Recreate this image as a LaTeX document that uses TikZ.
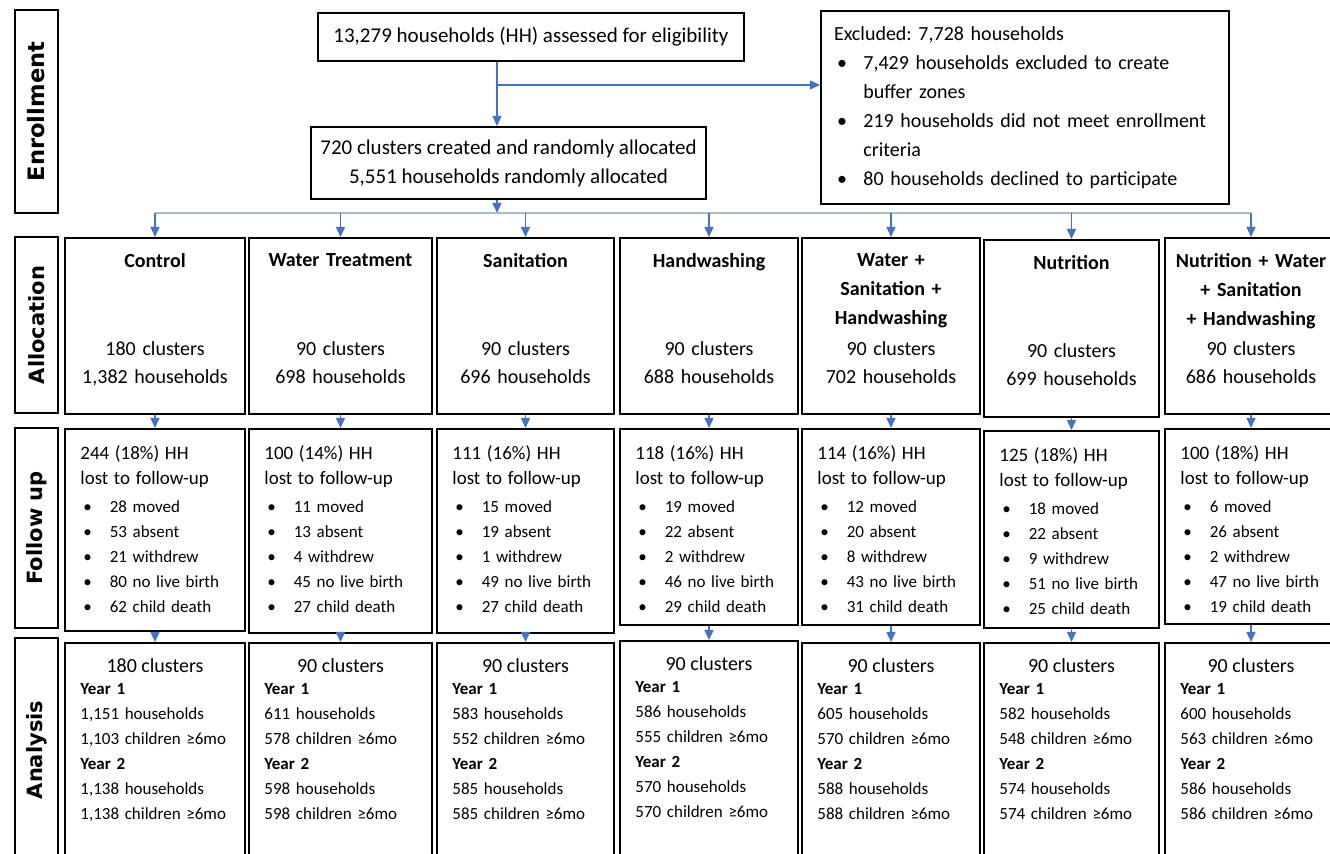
\documentclass[tikz,border=0pt]{standalone}
\usepackage{fontspec}
\setmainfont{Carlito}
\newfontfamily\labelfont{DejaVu Sans}
\usetikzlibrary{arrows.meta, calc}
\frenchspacing

\definecolor{flowblue}{HTML}{4472C4}
\definecolor{busline}{HTML}{A7B9D1}

\newcommand{\bul}{\hspace*{1.5pt}\makebox[13.2pt][l]{\textbullet}}
\newcommand{\fuhead}{\fontsize{9.5}{12.5}\selectfont}

\tikzset{
  box/.style={draw, line width=1pt, inner sep=0pt, anchor=north west},
  rowlabel/.style={draw, line width=1pt, rotate=90, inner sep=0pt, minimum height=21.5pt,
    font=\labelfont\bfseries\fontsize{10.5}{12}\selectfont},
  flow/.style={flowblue, line width=0.7pt, -{Triangle[length=5pt, width=4.5pt]}},
  bus/.style={busline, line width=0.9pt},
  armtitle/.style={anchor=north, inner sep=0pt, text width=86pt, align=center,
    font=\bfseries\fontsize{10}{14.5}\selectfont},
  armcount/.style={anchor=north, inner sep=0pt, text width=86pt, align=center,
    font=\fontsize{10}{14}\selectfont},
  lostlist/.style={anchor=north west, inner sep=0pt, text width=80pt, align=left,
    font=\fontsize{8.5}{12.5}\selectfont},
  yearlist/.style={anchor=north west, inner sep=0pt, text width=80pt, align=left,
    font=\fontsize{8.5}{12.5}\selectfont},
  clustcount/.style={anchor=north, inner sep=0pt, font=\fontsize{10}{12}\selectfont},
}

\begin{document}
\begin{tikzpicture}[x=0.5pt, y=-0.5pt]
\useasboundingbox (0,0) rectangle (1330,854);
\fill[white] (0,0) rectangle (1330,854);
\clip (0,0) rectangle (1330,854);

% stage labels
\node[rowlabel, minimum width=101.5pt, font=\labelfont\bfseries\fontsize{11.3}{12}\selectfont] (enrol) at (36.5,111.5) {Enrollment};
\node[rowlabel, minimum width=88pt] (alloc) at (36.5,325) {Allocation};
\node[rowlabel, minimum width=100pt] (follow) at (36.5,528) {Follow up};
\node[rowlabel, minimum width=112pt] (analy) at (36.5,750) {Analysis};

% enrollment
\node[box, minimum width=213pt, minimum height=24pt, font=\fontsize{10.5}{14.5}\selectfont] (assess) at (317,12)
  {13,279 households (HH) assessed for eligibility};
\node[box, minimum width=197.5pt, minimum height=36pt, align=center, font=\fontsize{10.5}{14.5}\selectfont] (rand) at (310,126)
  {720 clusters created and randomly allocated\\5,551 households randomly allocated};
\node[box, minimum width=204pt, minimum height=96.5pt, inner xsep=6.5pt, text width=191pt, align=left,
  font=\fontsize{10}{14.5}\selectfont] (excl) at (820,10)
  {Excluded: 7,728 households\\
   \bul 7,429 households excluded to create\\
   \hspace*{14.7pt}buffer zones\\
   \bul 219 households did not meet enrollment\\
   \hspace*{14.7pt}criteria\\
   \bul 80 households declined to participate};

\coordinate (split) at (497,85);
\coordinate (bus) at (497,213);

% allocation
\node[box, minimum width=90pt, minimum height=88pt] (al1) at (64,237) {};
\node[box, minimum width=91.5pt, minimum height=88pt] (al2) at (248,237) {};
\node[box, minimum width=88.5pt, minimum height=88pt] (al3) at (436,237) {};
\node[box, minimum width=89pt, minimum height=88pt] (al4) at (619,237) {};
\node[box, minimum width=89pt, minimum height=88pt] (al5) at (801,237) {};
\node[box, minimum width=87.5pt, minimum height=88.5pt] (al6) at (983,239) {};
\node[box, minimum width=86pt, minimum height=88pt] (al7) at (1164,237) {};

\node[armtitle] (ti1) at ([yshift=-8pt]al1.north) {Control};
\node[armtitle] (ti2) at ([yshift=-8pt]al2.north) {Water Treatment};
\node[armtitle] (ti3) at ([yshift=-8pt]al3.north) {Sanitation};
\node[armtitle] (ti4) at ([yshift=-8pt]al4.north) {Handwashing};
\node[armtitle] (ti5) at ([yshift=-8pt]al5.north) {Water +\\Sanitation +\\Handwashing};
\node[armtitle] (ti6) at ([yshift=-8pt]al6.north) {Nutrition};
\node[armtitle] (ti7) at ([yshift=-8pt]al7.north) {Nutrition + Water\\+ Sanitation\\+ Handwashing};

\node[armcount] (ct1) at ([yshift=-52pt]al1.north) {180 clusters\\1,382 households};
\node[armcount] (ct2) at ([yshift=-52pt]al2.north) {90 clusters\\698 households};
\node[armcount] (ct3) at ([yshift=-52pt]al3.north) {90 clusters\\696 households};
\node[armcount] (ct4) at ([yshift=-52pt]al4.north) {90 clusters\\688 households};
\node[armcount] (ct5) at ([yshift=-52pt]al5.north) {90 clusters\\702 households};
\node[armcount] (ct6) at ([yshift=-52pt]al6.north) {90 clusters\\699 households};
\node[armcount] (ct7) at ([yshift=-52pt]al7.north) {90 clusters\\686 households};

% follow up
\node[box, minimum width=90pt, minimum height=101pt] (fu1) at (64,428) {};
\node[box, minimum width=91.5pt, minimum height=102pt] (fu2) at (248,428) {};
\node[box, minimum width=88.5pt, minimum height=102pt] (fu3) at (436,428) {};
\node[box, minimum width=89pt, minimum height=98pt] (fu4) at (619,428) {};
\node[box, minimum width=89pt, minimum height=98pt] (fu5) at (801,428) {};
\node[box, minimum width=87.5pt, minimum height=98.5pt] (fu6) at (983,430) {};
\node[box, minimum width=86pt, minimum height=97.5pt] (fu7) at (1164,428) {};

\node[lostlist] (lo1) at ([shift={(8pt,-8.5pt)}]fu1.north west)
  {{\fuhead 244 (18\%) HH\\lost to follow-up}\\[1.5pt]\bul 28 moved\\\bul 53 absent\\\bul 21 withdrew\\\bul 80 no live birth\\\bul 62 child death};
\node[lostlist] (lo2) at ([shift={(8pt,-8.5pt)}]fu2.north west)
  {{\fuhead 100 (14\%) HH\\lost to follow-up}\\[1.5pt]\bul 11 moved\\\bul 13 absent\\\bul 4 withdrew\\\bul 45 no live birth\\\bul 27 child death};
\node[lostlist] (lo3) at ([shift={(8pt,-8.5pt)}]fu3.north west)
  {{\fuhead 111 (16\%) HH\\lost to follow-up}\\[1.5pt]\bul 15 moved\\\bul 19 absent\\\bul 1 withdrew\\\bul 49 no live birth\\\bul 27 child death};
\node[lostlist] (lo4) at ([shift={(8pt,-8.5pt)}]fu4.north west)
  {{\fuhead 118 (16\%) HH\\lost to follow-up}\\[1.5pt]\bul 19 moved\\\bul 22 absent\\\bul 2 withdrew\\\bul 46 no live birth\\\bul 29 child death};
\node[lostlist] (lo5) at ([shift={(8pt,-8.5pt)}]fu5.north west)
  {{\fuhead 114 (16\%) HH\\lost to follow-up}\\[1.5pt]\bul 12 moved\\\bul 20 absent\\\bul 8 withdrew\\\bul 43 no live birth\\\bul 31 child death};
\node[lostlist] (lo6) at ([shift={(8pt,-8.5pt)}]fu6.north west)
  {{\fuhead 125 (18\%) HH\\lost to follow-up}\\[1.5pt]\bul 18 moved\\\bul 22 absent\\\bul 9 withdrew\\\bul 51 no live birth\\\bul 25 child death};
\node[lostlist] (lo7) at ([shift={(8pt,-8.5pt)}]fu7.north west)
  {{\fuhead 100 (18\%) HH\\lost to follow-up}\\[1.5pt]\bul 6 moved\\\bul 26 absent\\\bul 2 withdrew\\\bul 47 no live birth\\\bul 19 child death};

% analysis
\node[box, minimum width=90pt, minimum height=114pt] (an1) at (64,642) {};
\node[box, minimum width=91.5pt, minimum height=114pt] (an2) at (248,642) {};
\node[box, minimum width=88.5pt, minimum height=114pt] (an3) at (436,642) {};
\node[box, minimum width=89pt, minimum height=115pt] (an4) at (619,640) {};
\node[box, minimum width=89pt, minimum height=114pt] (an5) at (801,642) {};
\node[box, minimum width=87.5pt, minimum height=114pt] (an6) at (983,642) {};
\node[box, minimum width=86pt, minimum height=114pt] (an7) at (1164,642) {};

\node[clustcount] (cl1) at ([yshift=-8pt]an1.north) {180 clusters};
\node[clustcount] (cl2) at ([yshift=-8pt]an2.north) {90 clusters};
\node[clustcount] (cl3) at ([yshift=-8pt]an3.north) {90 clusters};
\node[clustcount] (cl4) at ([yshift=-8pt]an4.north) {90 clusters};
\node[clustcount] (cl5) at ([yshift=-8pt]an5.north) {90 clusters};
\node[clustcount] (cl6) at ([yshift=-8pt]an6.north) {90 clusters};
\node[clustcount] (cl7) at ([yshift=-8pt]an7.north) {90 clusters};

\node[yearlist] (yr1) at ([shift={(8pt,-20.5pt)}]an1.north west)
  {\textbf{Year 1}\\1,151 households\\1,103 children ≥6mo\\\textbf{Year 2}\\1,138 households\\1,138 children ≥6mo};
\node[yearlist] (yr2) at ([shift={(8pt,-20.5pt)}]an2.north west)
  {\textbf{Year 1}\\611 households\\578 children ≥6mo\\\textbf{Year 2}\\598 households\\598 children ≥6mo};
\node[yearlist] (yr3) at ([shift={(8pt,-20.5pt)}]an3.north west)
  {\textbf{Year 1}\\583 households\\552 children ≥6mo\\\textbf{Year 2}\\585 households\\585 children ≥6mo};
\node[yearlist] (yr4) at ([shift={(8pt,-20.5pt)}]an4.north west)
  {\textbf{Year 1}\\586 households\\555 children ≥6mo\\\textbf{Year 2}\\570 households\\570 children ≥6mo};
\node[yearlist] (yr5) at ([shift={(8pt,-20.5pt)}]an5.north west)
  {\textbf{Year 1}\\605 households\\570 children ≥6mo\\\textbf{Year 2}\\588 households\\588 children ≥6mo};
\node[yearlist] (yr6) at ([shift={(8pt,-20.5pt)}]an6.north west)
  {\textbf{Year 1}\\582 households\\548 children ≥6mo\\\textbf{Year 2}\\574 households\\574 children ≥6mo};
\node[yearlist] (yr7) at ([shift={(8pt,-20.5pt)}]an7.north west)
  {\textbf{Year 1}\\600 households\\563 children ≥6mo\\\textbf{Year 2}\\586 households\\586 children ≥6mo};

% arrows
\draw[flow] (split |- assess.south) -- (split |- rand.north);
\draw[flow] (split) -- (split -| excl.west);
\draw[flow] (rand.south -| bus) -- (bus);
\draw[bus] (bus -| al1.north) -- (bus -| al7.north);
\path (bus -| al1.north) edge[flow] (al1.north)
      (bus -| al2.north) edge[flow] (al2.north)
      (bus -| al3.north) edge[flow] (al3.north)
      (bus -| al4.north) edge[flow] (al4.north)
      (bus -| al5.north) edge[flow] (al5.north)
      (bus -| al6.north) edge[flow] (al6.north)
      (bus -| al7.north) edge[flow] (al7.north);
\path (al1.south) edge[flow] (al1.south |- fu1.north)
      (al2.south) edge[flow] (al2.south |- fu2.north)
      (al3.south) edge[flow] (al3.south |- fu3.north)
      (al4.south) edge[flow] (al4.south |- fu4.north)
      (al5.south) edge[flow] (al5.south |- fu5.north)
      (al6.south) edge[flow] (al6.south |- fu6.north)
      (al7.south) edge[flow] (al7.south |- fu7.north);
\path (fu1.south) edge[flow] (fu1.south |- an1.north)
      (fu2.south) edge[flow] (fu2.south |- an2.north)
      (fu3.south) edge[flow] (fu3.south |- an3.north)
      (fu4.south) edge[flow] (fu4.south |- an4.north)
      (fu5.south) edge[flow] (fu5.south |- an5.north)
      (fu6.south) edge[flow] (fu6.south |- an6.north)
      (fu7.south) edge[flow] (fu7.south |- an7.north);
\end{tikzpicture}
\end{document}
